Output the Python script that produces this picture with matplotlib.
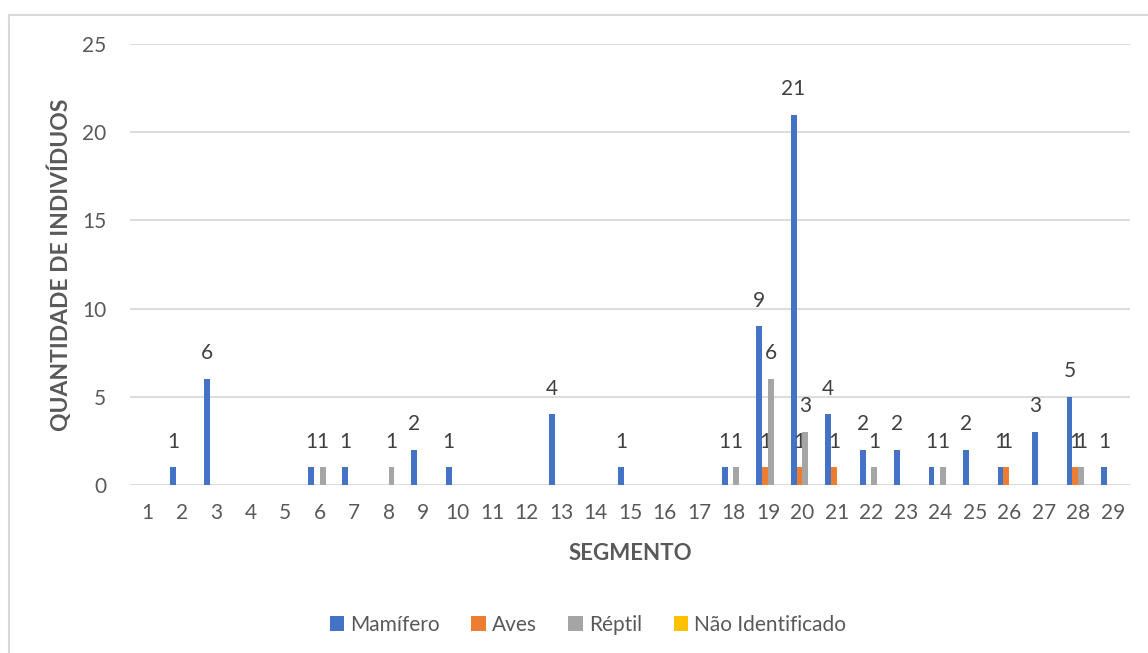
import matplotlib
matplotlib.use("Agg")
import matplotlib.pyplot as plt
from matplotlib.lines import Line2D
from matplotlib.patches import Patch
import numpy as np

plt.rcParams['font.family'] = ['Lato', 'DejaVu Sans']

segmentos = list(range(1, 30))
mamifero = [0, 1, 6, 0, 0, 1, 1, 0, 2, 1, 0, 0, 4, 0, 1, 0, 0, 1, 9, 21, 4, 2, 2, 1, 2, 1, 3, 5, 1]
aves     = [0, 0, 0, 0, 0, 0, 0, 0, 0, 0, 0, 0, 0, 0, 0, 0, 0, 0, 1, 1, 1, 0, 0, 0, 0, 1, 0, 1, 0]
reptil   = [0, 0, 0, 0, 0, 1, 0, 1, 0, 0, 0, 0, 0, 0, 0, 0, 0, 1, 6, 3, 0, 1, 0, 1, 0, 0, 0, 1, 0]
nao_identificado = [0] * 29

series = [
    ("Mamífero", mamifero, "#4472C4"),
    ("Aves", aves, "#ED7D31"),
    ("Réptil", reptil, "#A5A5A5"),
    ("Não Identificado", nao_identificado, "#FFC000"),
]

W, H = 1148, 653
fig = plt.figure(figsize=(W / 100, H / 100), dpi=100)
ax = fig.add_axes([130 / W, (H - 485) / H, 1000 / W, 441 / H])

x = np.array(segmentos, dtype=float)
bw = 0.17
text_col = "#595959"
label_col = "#404040"
fs = 15

for i, (name, vals, col) in enumerate(series):
    pos = x + (i - 1.5) * bw
    ax.bar(pos, vals, width=bw, color=col, label=name, zorder=3)
    for px, v in zip(pos, vals):
        if v > 0:
            ax.annotate(str(v), (px, v), xytext=(0, 18.5), textcoords="offset points",
                        ha="center", va="center", fontsize=fs, color=label_col)

ax.set_xlim(0.5, 29.5)
ax.set_ylim(0, 25)
ax.set_yticks([0, 5, 10, 15, 20, 25])
ax.set_xticks(x)
ax.set_xticklabels([str(s) for s in segmentos])
ax.tick_params(axis="both", length=0, labelsize=fs, colors=text_col)
ax.tick_params(axis="y", pad=17)
ax.tick_params(axis="x", pad=13)
ax.yaxis.grid(True, color="#D9D9D9", linewidth=1.3, zorder=0)
ax.set_axisbelow(True)
for s in ax.spines.values():
    s.set_visible(False)

fig.text(630 / W, 1 - 553 / H, "SEGMENTO", ha="center", va="center",
         fontsize=16, fontweight="bold", color=text_col)
fig.text(60 / W, 1 - 265 / H, "QUANTIDADE DE INDIVÍDUOS", ha="center", va="center",
         rotation=90, fontsize=16.5, fontweight="bold", color=text_col)

handles = [Patch(facecolor=c, edgecolor="none") for _, _, c in series]
fig.legend(handles, [n for n, _, _ in series], loc="center",
           bbox_to_anchor=(588 / W, 1 - 625 / H), ncol=4, frameon=False,
           fontsize=fs, labelcolor=text_col, handlelength=0.7, handleheight=0.7,
           handletextpad=0.3, columnspacing=1.5)

# chart frame
fig.add_artist(Line2D([9 / W, 9 / W], [0, 1 - 15 / H], color="#D9D9D9", linewidth=1.5))
fig.add_artist(Line2D([9 / W, 1], [1 - 15 / H, 1 - 15 / H], color="#D9D9D9", linewidth=1.5))

fig.savefig("out.png", dpi=100)
